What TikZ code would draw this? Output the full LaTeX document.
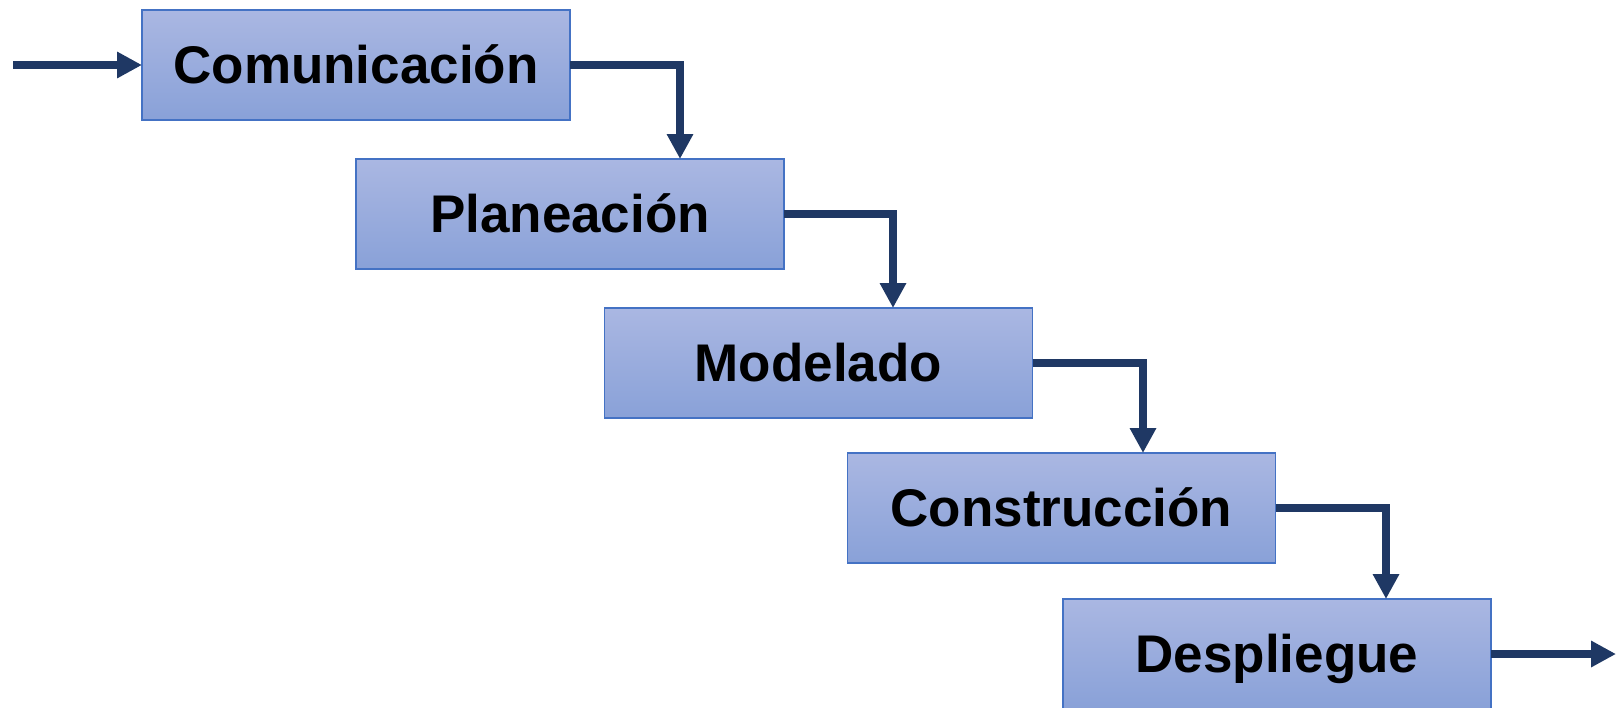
\documentclass[tikz,border=0pt]{standalone}
\usepackage{fontspec}
\setmainfont{Liberation Sans}
\usetikzlibrary{arrows.meta}
\definecolor{boxtop}{RGB}{170,183,226}
\definecolor{boxbot}{RGB}{137,161,216}
\definecolor{boxline}{RGB}{68,114,196}
\definecolor{arrowcol}{RGB}{31,56,100}
\tikzset{
  stage/.style={rectangle, draw=boxline, line width=0.75pt, top color=boxtop, bottom color=boxbot,
    minimum width=214pt, minimum height=55pt, inner sep=0pt, outer sep=0pt,
    text height=18.5pt, text depth=0pt,
    font=\fontsize{26.5pt}{30pt}\selectfont\bfseries, text=black},
  conn/.style={draw=arrowcol, line width=4pt, line join=miter,
    -{Triangle[length=12.5pt,width=12.5pt]}}
}
\begin{document}
\begin{tikzpicture}[x=0.5pt,y=-0.5pt]
\useasboundingbox (0,0) rectangle (1620,707);
\begin{scope}
\clip (0,0) rectangle (1620,707);
\node[stage] (c1) at (356,65) {Comunicación};
\node[stage] (c2) at (570,214) {Planeación};
\node[stage] (c3) at (818.5,363) {Modelado};
\node[stage] (c4) at (1061.5,508) {Construcción};
\node[stage] (c5) at (1277,654) {Despliegue};
\end{scope}
\coordinate (start) at (13,65);
\coordinate (end) at (1616,654);
\coordinate (k1) at (680,0);
\coordinate (k2) at (893,0);
\coordinate (k3) at (1143,0);
\coordinate (k4) at (1386,0);
\draw[conn] (start) -- (c1.west);
\draw[conn] (c1.east) -| (k1 |- c2.north);
\draw[conn] (c2.east) -| (k2 |- c3.north);
\draw[conn] (c3.east) -| (k3 |- c4.north);
\draw[conn] (c4.east) -| (k4 |- c5.north);
\draw[conn] (c5.east) -- (end);
\end{tikzpicture}
\end{document}
